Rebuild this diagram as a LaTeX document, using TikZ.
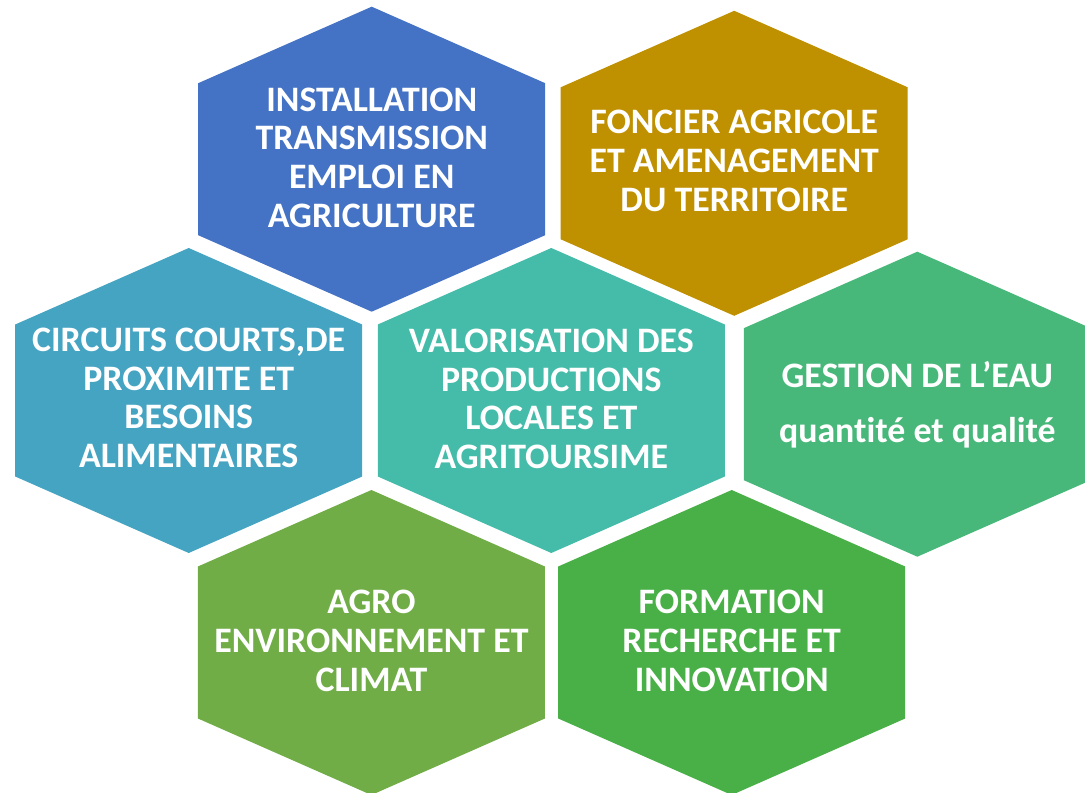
\documentclass[tikz,border=0pt]{standalone}
\usepackage{fontspec}
\setmainfont[Ligatures=NoCommon]{Carlito}
\usepackage{tikz}
\usetikzlibrary{positioning}
\definecolor{hexblue}{HTML}{4472C4}
\definecolor{hexgold}{HTML}{BF9000}
\definecolor{hexcyan}{HTML}{45A4C2}
\definecolor{hexteal}{HTML}{45BCA9}
\definecolor{hexmint}{HTML}{47B87A}
\definecolor{hexolive}{HTML}{70AD47}
\definecolor{hexgreen}{HTML}{49B047}
\tikzset{hexa/.pic={\fill[pic actions] (0,-152.5) -- (173.5,-76) -- (173.5,76) -- (0,152.5) -- (-173.5,76) -- (-173.5,-76) -- cycle;}}

\begin{document}
\begin{tikzpicture}[x=0.02cm, y=-0.02cm,
        lbl/.style = {text=white, align=center, font=\fontsize{20.4}{22}\selectfont\bfseries}]
            \useasboundingbox (0,0) rectangle (1085,793);
            \pic[fill=hexblue] at (371.7,159.2) {hexa};
            \pic[fill=hexgold] at (734.2,163.3) {hexa};
            \pic[fill=hexcyan] at (188.7,400.5) {hexa};
            \pic[fill=hexteal] at (551.3,400.5) {hexa};
            \pic[fill=hexmint] at (917.3,404.2) {hexa};
            \pic[fill=hexolive] at (371.4,642.5) {hexa};
            \pic[fill=hexgreen] at (731.7,642.5) {hexa};
            \node[lbl] (inst) at (371.7,157.5) {INSTALLATION\\TRANSMISSION\\EMPLOI EN\\AGRICULTURE};
            \node[lbl] (fonc) at (734.2,161) {FONCIER AGRICOLE\\ET AMENAGEMENT\\DU TERRITOIRE};
            \node[lbl] (circ) at (188.7,398) {CIRCUITS COURTS,DE\\PROXIMITE ET\\BESOINS\\ALIMENTAIRES};
            \node[lbl] (valo) at (551.3,399) {VALORISATION DES\\PRODUCTIONS\\LOCALES ET\\AGRITOURSIME};
            \node[lbl] (eau) at (917.3,405) {GESTION DE L’EAU\\[9pt]quantité et qualité};
            \node[lbl] (agro) at (371.4,641) {AGRO\\ENVIRONNEMENT ET\\CLIMAT};
            \node[lbl] (form) at (731.7,641) {FORMATION\\RECHERCHE ET\\INNOVATION};
        \end{tikzpicture}
\end{document}
